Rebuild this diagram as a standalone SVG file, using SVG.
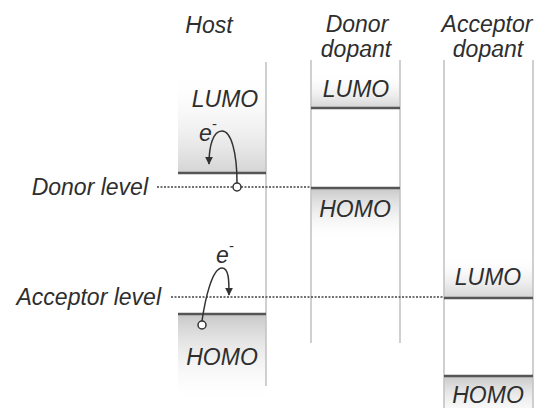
<svg xmlns="http://www.w3.org/2000/svg" width="538" height="408" viewBox="0 0 538 408">
<defs>
<linearGradient id="up" x1="0" y1="0" x2="0" y2="1">
<stop offset="0" stop-color="#ffffff" stop-opacity="0"/>
<stop offset="1" stop-color="#d4d4d4"/>
</linearGradient>
<linearGradient id="down" x1="0" y1="0" x2="0" y2="1">
<stop offset="0" stop-color="#c8c8c8"/>
<stop offset="1" stop-color="#ffffff" stop-opacity="0"/>
</linearGradient>
<marker id="ah" viewBox="0 0 10 10" refX="9" refY="5" markerWidth="8" markerHeight="8" orient="auto" markerUnits="userSpaceOnUse">
<path d="M0,0 L10,5 L0,10 Z" fill="#333"/>
</marker>
<style>
text{font-family:"Liberation Sans",Arial,sans-serif;font-style:italic;font-size:23px;fill:#2e2e2e;}
.mid{text-anchor:middle;}
.end{text-anchor:end;}
.col{stroke:#c4c4c4;stroke-width:1.6;fill:none;}
.lev{stroke:#555;stroke-width:2.6;}
.dot{stroke:#444;stroke-width:1.5;stroke-dasharray:2 1.5;fill:none;}
.arr{stroke:#333;stroke-width:1.5;fill:none;}
.el{fill:#fff;stroke:#333;stroke-width:1.5;}
.sup{font-size:15px;font-style:normal;}
</style>
</defs>
<rect width="538" height="408" fill="#fff"/>
<g id="host">
<rect x="178" y="70" width="88" height="103" fill="url(#up)"/>
<rect x="178" y="314" width="88" height="90" fill="url(#down)"/>
<line class="col" x1="266" y1="62" x2="266" y2="386"/>
<line class="lev" x1="178" y1="173" x2="266" y2="173"/>
<line class="lev" x1="178" y1="314" x2="266" y2="314"/>
<text class="mid" x="209" y="33">Host</text>
<text class="mid" x="225" y="107">LUMO</text>
<text class="mid" x="222" y="365">HOMO</text>
</g>
<g id="donor">
<rect x="311" y="72" width="89" height="36" fill="url(#up)"/>
<rect x="311" y="188" width="89" height="55" fill="url(#down)"/>
<line class="col" x1="311" y1="60" x2="311" y2="343"/>
<line class="col" x1="400" y1="60" x2="400" y2="343"/>
<line class="lev" x1="311" y1="108" x2="400" y2="108"/>
<line class="lev" x1="311" y1="188" x2="400" y2="188"/>
<text class="mid" x="357" y="32">Donor</text>
<text class="mid" x="356" y="57">dopant</text>
<text class="mid" x="356" y="97">LUMO</text>
<text class="mid" x="355" y="217">HOMO</text>
</g>
<g id="acceptor">
<rect x="444" y="255" width="89" height="43" fill="url(#up)"/>
<rect x="444" y="376" width="89" height="50" fill="url(#down)"/>
<line class="col" x1="444" y1="60" x2="444" y2="408"/>
<line class="col" x1="533" y1="60" x2="533" y2="408"/>
<line class="lev" x1="444" y1="298" x2="533" y2="298"/>
<line class="lev" x1="444" y1="376" x2="533" y2="376"/>
<text class="mid" x="487" y="32">Acceptor</text>
<text class="mid" x="488" y="57">dopant</text>
<text class="mid" x="488" y="285">LUMO</text>
<text class="mid" x="488" y="403">HOMO</text>
</g>
<g id="donor-level">
<text class="end" x="148" y="195">Donor level</text>
</g>
<g id="acceptor-level">
<text class="end" x="161" y="305">Acceptor level</text>
</g>
<g id="connectors">
<line class="dot" x1="157" y1="187" x2="311" y2="187"/>
<line class="dot" x1="171" y1="297" x2="444" y2="297"/>
<path class="arr" d="M237,183 C237,152 231,131 222,131 C213,131 209,146 209,164" marker-end="url(#ah)"/>
<path class="arr" d="M202,321 C205,300 212,268 222,268 C229,268 229,281 229,295" marker-end="url(#ah)"/>
<circle class="el" cx="237" cy="187" r="4"/>
<circle class="el" cx="202" cy="325" r="4"/>
<text x="199" y="141">e</text>
<text class="sup" x="212" y="129">-</text>
<text x="216" y="263">e</text>
<text class="sup" x="229" y="251">-</text>
</g>
</svg>
